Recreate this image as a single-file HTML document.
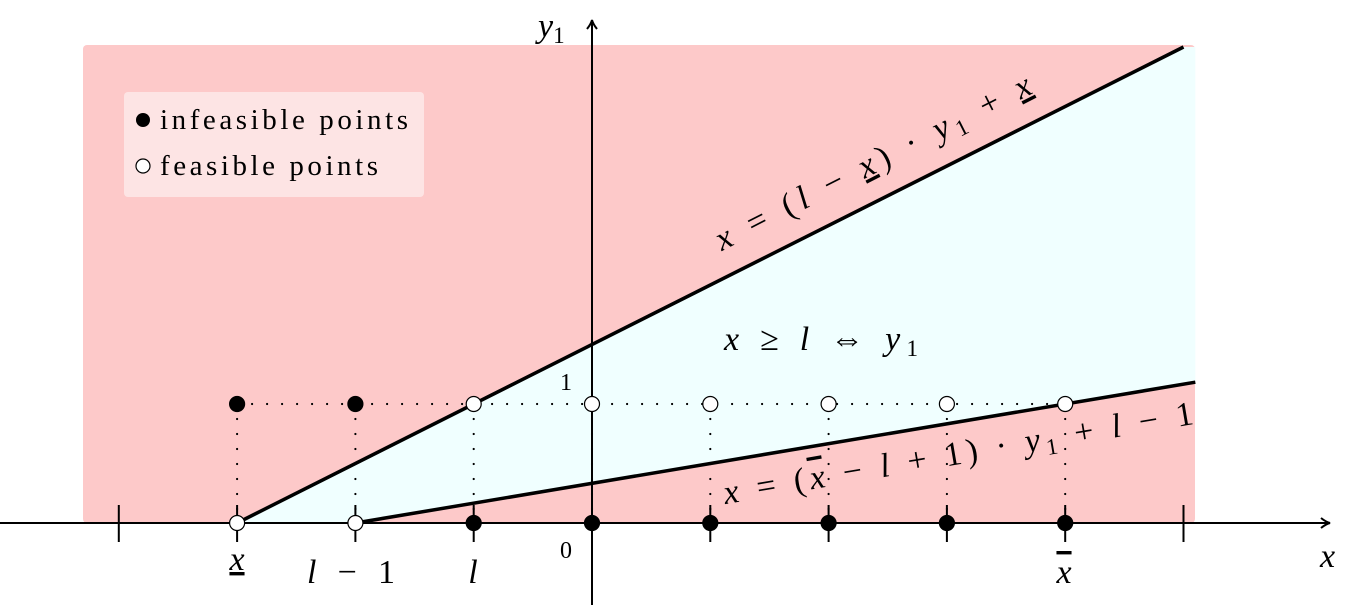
<!DOCTYPE html>
<html><head><meta charset="utf-8"><style>
body{margin:0;background:#fff}
svg{display:block;font-family:"Liberation Serif",serif}
.it{font-style:italic}
</style></head><body>
<svg id="c" width="1359" height="607" viewBox="0 0 1359 607">
<defs><marker id="ar" markerWidth="12" markerHeight="12" refX="10" refY="6" orient="auto" markerUnits="userSpaceOnUse"><path d="M1,1 Q6,5 10,6 Q6,7 1,11" fill="none" stroke="#000" stroke-width="2"/></marker></defs>
<g id="g"></g>
</svg>
<script>
const xTicks=[-4,-3,-2,-1,0,1,2,3,4,5];
const pointXs=[-3,-2,-1,0,1,2,3,4];
const feasibleTop=[false,false,true,true,true,true,true,true];
const upperLine={x0:-3,x1:5,yAt:x=>(x+3)/2};
const lowerLine={x0:-2,x1:5.1,yAt:x=>(x+2)/6};
const X=v=>592+118.3*v, Y=v=>523-119*v;
const NS="http://www.w3.org/2000/svg", g=document.getElementById('g');
function el(t,a,p){const e=document.createElementNS(NS,t);for(const k in a)e.setAttribute(k,a[k]);(p||g).appendChild(e);return e;}
let e;
e=el('rect',{x:83,y:45,width:1112,height:478,rx:4,fill:'#fdc9c9'});

const xr=5.1;
e=el('polygon',{points:`${X(-3)},${Y(0)} ${X(upperLine.x1)},${Y(upperLine.yAt(upperLine.x1))} ${X(xr)},${Y(upperLine.yAt(upperLine.x1))} ${X(xr)},${Y(lowerLine.yAt(xr))} ${X(-2)},${Y(0)}`,fill:'#f0ffff'});

e=el('rect',{x:124,y:92,width:300,height:105,rx:4,fill:'#fde4e4'});

e=el('circle',{cx:143,cy:120,r:7,fill:'#000'});

e=el('text',{x:160,y:129,'font-size':29,textLength:248,lengthAdjust:'spacing'});e.textContent='infeasible points';

e=el('circle',{cx:143,cy:166,r:7,fill:'#fff',stroke:'#000','stroke-width':1.2});

e=el('text',{x:160,y:175,'font-size':29,textLength:218,lengthAdjust:'spacing'});e.textContent='feasible points';

e=el('line',{x1:X(-3),y1:Y(1),x2:X(4),y2:Y(1),stroke:'#000','stroke-width':2.2,'stroke-dasharray':'0 15','stroke-linecap':'round'});

pointXs.forEach(v=>{e=el('line',{x1:X(v),y1:Y(1),x2:X(v),y2:Y(0),stroke:'#000','stroke-width':2.2,'stroke-dasharray':'0 15','stroke-linecap':'round'});
});
e=el('line',{x1:0,y1:523,x2:1330,y2:523,stroke:'#000','stroke-width':2,'marker-end':'url(#ar)'});

e=el('line',{x1:592,y1:605,x2:592,y2:20,stroke:'#000','stroke-width':2,'marker-end':'url(#ar)'});

xTicks.forEach(v=>{e=el('line',{x1:X(v),y1:505,x2:X(v),y2:542,stroke:'#000','stroke-width':2});
});
e=el('line',{x1:X(upperLine.x0),y1:Y(upperLine.yAt(upperLine.x0)),x2:X(upperLine.x1),y2:Y(upperLine.yAt(upperLine.x1)),stroke:'#000','stroke-width':3.5});

e=el('line',{x1:X(lowerLine.x0),y1:Y(lowerLine.yAt(lowerLine.x0)),x2:X(lowerLine.x1),y2:Y(lowerLine.yAt(lowerLine.x1)),stroke:'#000','stroke-width':3.5});

pointXs.forEach((v,i)=>{
 const f=feasibleTop[i];
 e=el('circle',{cx:X(v),cy:Y(1),r:7.5,fill:f?'#fff':'#000',stroke:'#000','stroke-width':1.2});
 
 e=el('circle',{cx:X(v),cy:Y(0),r:7.5,fill:f?'#000':'#fff',stroke:'#000','stroke-width':1.2});
 
});
</script>
<svg style="position:absolute;left:0;top:0" width="1359" height="607">
<g font-family="Liberation Serif,serif" font-size="34">
<text x="538" y="37" class="it">y<tspan font-size="23" dy="6" font-style="normal">1</tspan></text>
<text x="1320" y="567" class="it">x</text>
<text x="560" y="390" font-size="24">1</text>
<text x="560" y="558" font-size="24">0</text>
<text x="237" y="570" text-anchor="middle" class="it" text-decoration="underline">x</text>
<text x="307" y="583" textLength="88" lengthAdjust="spacing"><tspan font-style="italic">l</tspan> − 1</text>
<text x="473" y="583" text-anchor="middle" class="it">l</text>
<text x="1064" y="583" text-anchor="middle" class="it" text-decoration="overline">x</text>
<text x="724" y="350" textLength="194" lengthAdjust="spacing"><tspan font-style="italic">x</tspan> ≥ <tspan font-style="italic">l</tspan> ⇔ <tspan font-style="italic">y</tspan><tspan font-size="23" dy="6">1</tspan></text>
<g transform="translate(878,172) rotate(-26.9)"><text x="-175" y="0" textLength="350" lengthAdjust="spacing"><tspan font-style="italic">x</tspan> = (<tspan font-style="italic">l</tspan> − <tspan font-style="italic" text-decoration="underline">x</tspan>) · <tspan font-style="italic">y</tspan><tspan font-size="23" dy="6">1</tspan><tspan dy="-6"> + </tspan><tspan font-style="italic" text-decoration="underline">x</tspan></text></g>
<g transform="translate(960,464) rotate(-9.7)"><text x="-238" y="0" textLength="476" lengthAdjust="spacing"><tspan font-style="italic">x</tspan> = (<tspan font-style="italic" text-decoration="overline">x</tspan> − <tspan font-style="italic">l</tspan> + 1) · <tspan font-style="italic">y</tspan><tspan font-size="23" dy="6">1</tspan><tspan dy="-6"> + </tspan><tspan font-style="italic">l</tspan> − 1</text></g>
</g></svg>
</body></html>
